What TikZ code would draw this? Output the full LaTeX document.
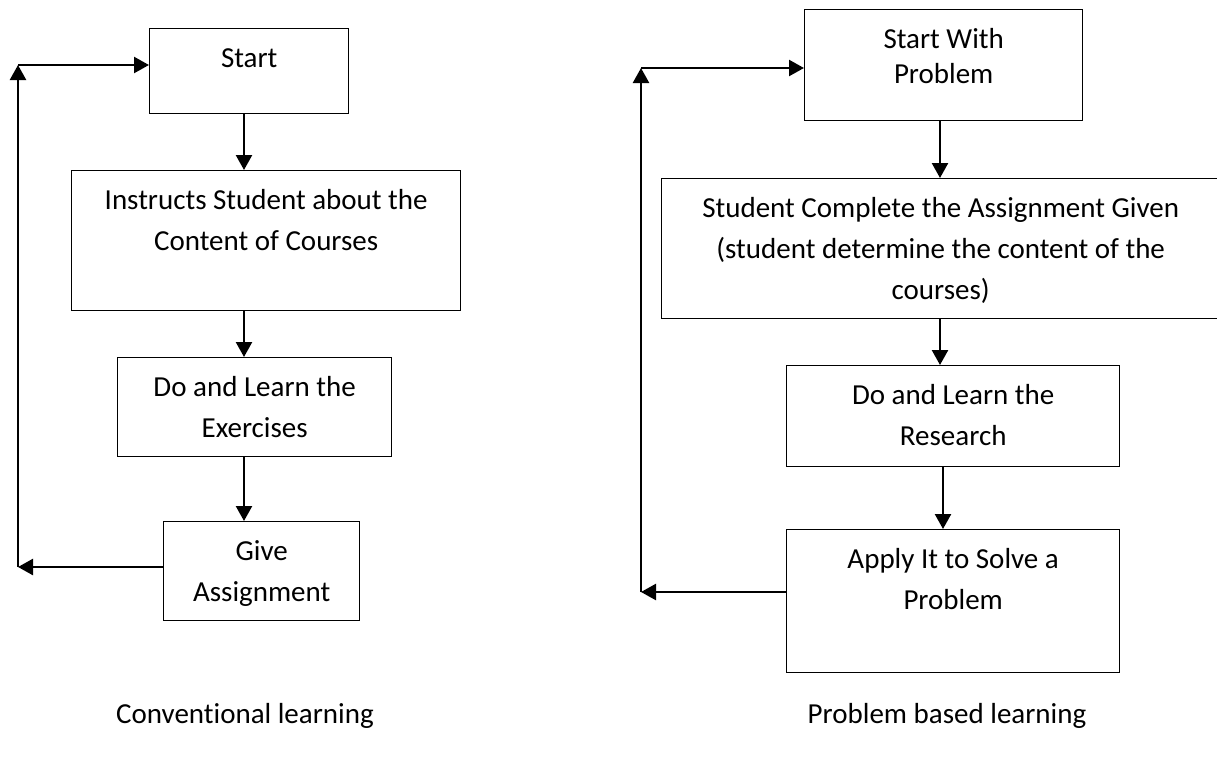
\documentclass[tikz,border=0pt]{standalone}
\usepackage{fontspec}
\setmainfont{Carlito}[Ligatures=NoCommon]
\usetikzlibrary{arrows.meta}
% top-aligned, centred text block of fixed size: width, height, lines
\newcommand{\boxtext}[3]{\parbox[c][#2][t]{#1}{\centering\rule{0pt}{19.5pt}#3}}
\begin{document}
\begin{tikzpicture}[x=0.5pt,y=-0.5pt,
  flowbox/.style={draw=black, line width=0.7pt, rectangle, inner sep=0pt,
    anchor=north west, font=\fontsize{14.5pt}{20.35pt}\selectfont},
  link/.style={line width=1.2pt, -{Triangle[length=7.5pt,width=8pt]}},
  capt/.style={anchor=base, inner sep=0pt, font=\fontsize{14.5pt}{20.35pt}\selectfont}]

\fill[white] (0,0) rectangle (1217,761);
\useasboundingbox (0,0) rectangle (1217,761);

% ---- conventional learning ----
\node[flowbox] (s1) at (149,28)  {\boxtext{99.5pt}{42.5pt}{Start}};
\node[flowbox] (s2) at (71,170)  {\boxtext{194.5pt}{70pt}{Instructs Student about the\\Content of Courses}};
\node[flowbox] (s3) at (117,357) {\boxtext{137pt}{49.5pt}{Do and Learn the\\Exercises}};
\node[flowbox] (s4) at (163,521) {\boxtext{98pt}{49.5pt}{Give\\Assignment}};

\coordinate (xa) at (244,0);
\draw[link] (s1.south -| xa) -- (s2.north -| xa);
\draw[link] (s2.south -| xa) -- (s3.north -| xa);
\draw[link] (s3.south -| xa) -- (s4.north -| xa);

\coordinate (lb) at (18,567);
\coordinate (lt) at (18,65);
\draw[link] (s4.west |- lb) -- (lb);
\draw[link] (lb) -- (lt);
\draw[link] (lt) -- (s1.west |- lt);

\node[capt] (c1) at (245,723) {Conventional learning};

% ---- problem based learning ----
\node[flowbox] (p1) at (804,9)   {\boxtext{139pt}{55.5pt}{\fontsize{14.5pt}{17.5pt}\selectfont Start With\\Problem}};
\node[flowbox] (p2) at (661,178) {\boxtext{279pt}{70pt}{Student Complete the Assignment Given\\(student determine the content of the\\courses)}};
\node[flowbox] (p3) at (786,365) {\boxtext{166.5pt}{50.5pt}{Do and Learn the\\Research}};
\node[flowbox] (p4) at (786,529) {\boxtext{166.5pt}{71.5pt}{Apply It to Solve a\\Problem}};

\coordinate (xb) at (940,0);
\coordinate (xc) at (943,0);
\draw[link] (p1.south -| xb) -- (p2.north -| xb);
\draw[link] (p2.south -| xb) -- (p3.north -| xb);
\draw[link] (p3.south -| xc) -- (p4.north -| xc);

\coordinate (rb) at (641,592);
\coordinate (rt) at (641,68);
\draw[link] (p4.west |- rb) -- (rb);
\draw[link] (rb) -- (rt);
\draw[link] (rt) -- (p1.west |- rt);

\node[capt] (c2) at (947,723) {Problem based learning};
\end{tikzpicture}
\end{document}
